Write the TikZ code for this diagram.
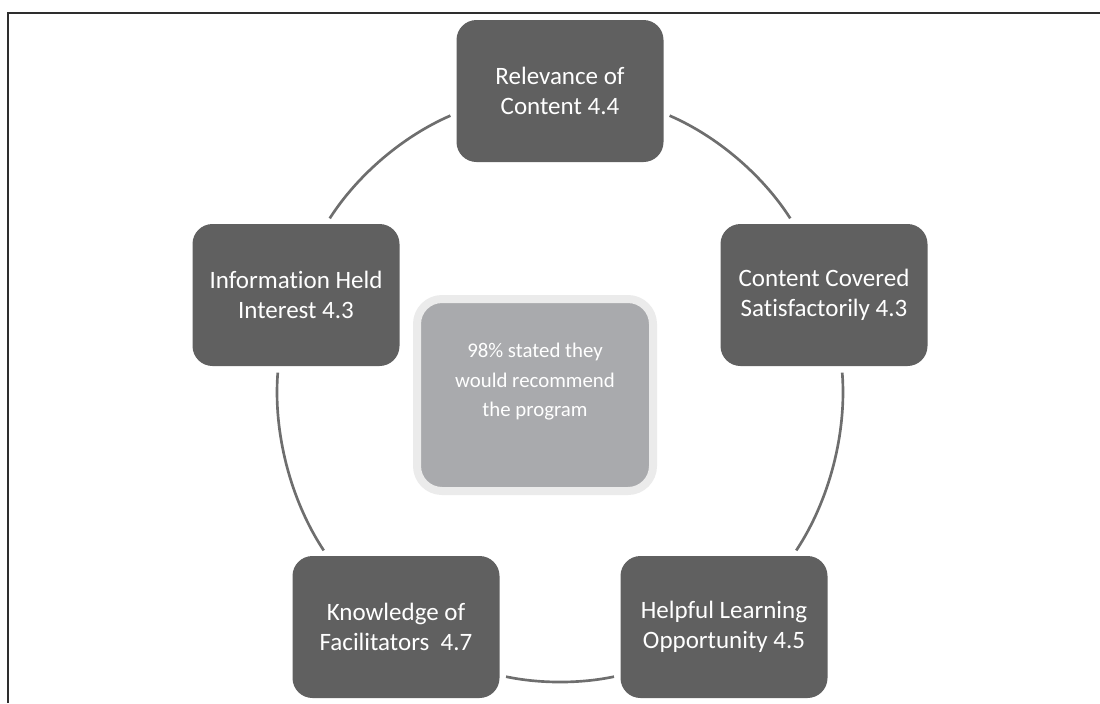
\documentclass[tikz,border=0pt]{standalone}
\usepackage{fontspec}
\setmainfont{Carlito}[RawFeature={-liga;-clig;-calt;-dlig}]
\usepackage{xcolor}
\usepackage{tikz}
\usetikzlibrary{positioning, shapes, backgrounds, calc}
\definecolor{boxgray}{HTML}{606060}
\definecolor{coregray}{HTML}{A9AAAD}
\definecolor{corerim}{HTML}{EBEBEB}
\definecolor{ringgray}{HTML}{6E6E6E}
\definecolor{framegray}{HTML}{2E2E2E}

\begin{document}
\begin{tikzpicture}[x=0.6pt, y=0.6pt,
  box/.style={rectangle, rounded corners=12pt, fill=boxgray, text=white,
    align=center, minimum width=124.2pt, minimum height=85.2pt, outer sep=0pt,
    font=\fontsize{15}{18}\selectfont},
  core/.style={rectangle, rounded corners=15pt, fill=coregray, draw=corerim,
    line width=4.8pt, text=white, align=center, minimum width=141.6pt,
    minimum height=115.2pt, font=\fontsize{12.5}{17.7}\selectfont},
  ring/.style={draw=ringgray, line width=1.6pt, looseness=0.87,
    shorten <=4pt, shorten >=4pt},
  frame/.style={draw=framegray, line width=1.2pt}
]
  \useasboundingbox (0,0) rectangle (1100,-703);
  \draw[frame] (8,-703) |- (1100,-13);

  \node[box] (rel) at (560,-91) {Relevance of\\Content 4.4};
  \node[box] (cov) at (824,-295) {Content Covered\\Satisfactorily 4.3};
  \node[box] (help) at (724,-627) {Helpful Learning\\Opportunity 4.5};
  \node[box] (know) at (396,-627) {Knowledge of\\Facilitators~~4.7};
  \node[box] (info) at (296,-295) {Information Held\\Interest 4.3};
  \node[core] (core) at (535,-395) {98\% stated they\\would recommend\\the program\\\mbox{}};

  \draw[ring] (rel.-12) to[bend left=17] (cov.113);
  \draw[ring] (cov.-76) to[bend left=19] (help.46);
  \draw[ring] (help.205) to[bend left=12] (know.-25);
  \draw[ring] (know.134) to[bend left=19] (info.256);
  \draw[ring] (info.67) to[bend left=17] (rel.192);
\end{tikzpicture}
\end{document}
